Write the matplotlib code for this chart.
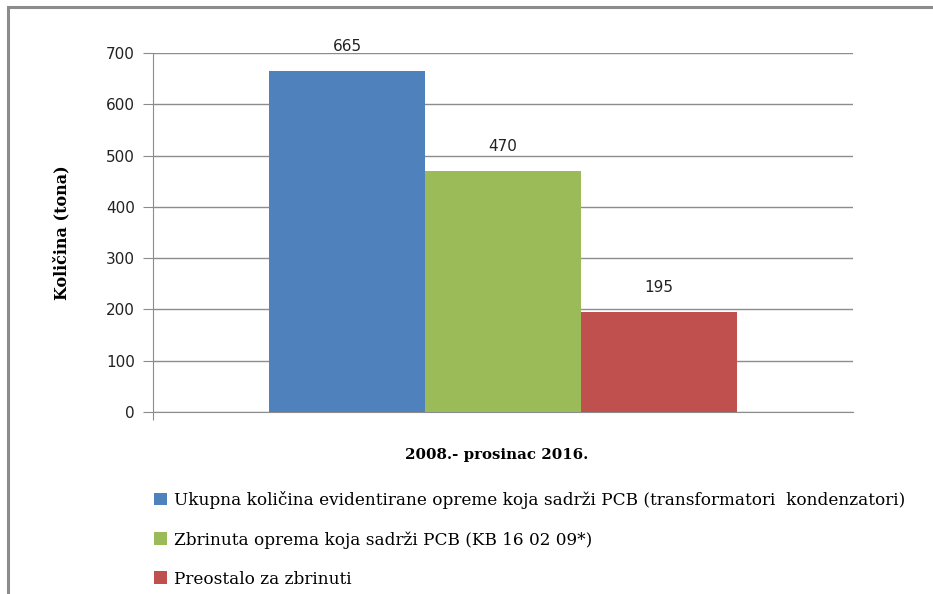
import matplotlib
matplotlib.use("Agg")
import matplotlib.pyplot as plt
from matplotlib.patches import Patch, Rectangle

category = "2008.- prosinac 2016."
series = [
    "Ukupna količina evidentirane opreme koja sadrži PCB (transformatori  kondenzatori)",
    "Zbrinuta oprema koja sadrži PCB (KB 16 02 09*)",
    "Preostalo za zbrinuti",
]
values = [665, 470, 195]
colors = ["#4f81bd", "#9bbb59", "#c0504d"]
yticks = [0, 100, 200, 300, 400, 500, 600, 700]

W, H = 933, 594
fig = plt.figure(figsize=(W / 100, H / 100), dpi=100)

# outer frame
fig.patches.append(Rectangle((8 / W, -0.1), 2.0, (H - 7) / H + 0.1,
                             transform=fig.transFigure, fill=False,
                             edgecolor="#8c8c8c", linewidth=2.2, zorder=0))

ax = fig.add_axes([153 / W, 1 - 412 / H, 700 / W, (412 - 53) / H])
xs = [-1, 0, 1]
ax.bar(xs, values, width=1.0, color=colors, zorder=3, linewidth=0)
ax.set_xlim(-2.248, 2.248)
ax.set_ylim(0, 700)
ax.set_yticks(yticks)
ax.set_yticklabels([str(t) for t in yticks], fontsize=11, color="#222222",
                   family="DejaVu Sans")
ax.grid(axis="y", color="#8c8c8c", linewidth=1.0, zorder=1)
ax.set_axisbelow(True)
for s in ["top", "right"]:
    ax.spines[s].set_visible(False)
ax.spines["left"].set_color("#8c8c8c")
ax.spines["bottom"].set_color("#8c8c8c")
ax.tick_params(axis="y", length=7, color="#8c8c8c", pad=6)
ax.set_xticks([-2.248])
ax.set_xticklabels([""])
ax.tick_params(axis="x", length=6, color="#8c8c8c")

for x, v in zip(xs, values):
    ax.annotate(str(v), (x, v), xytext=(0, 12), textcoords="offset points",
                ha="center", va="bottom", fontsize=11, color="#222222",
                family="DejaVu Sans")

serif = "DejaVu Serif"
fig.text(62 / W, 1 - 233 / H, "Količina (tona)", rotation=90,
         ha="center", va="center", fontsize=11.5, fontweight="bold",
         family=serif)
fig.text(497 / W, 1 - 455 / H, category, ha="center", va="center",
         fontsize=10.8, fontweight="bold", family=serif)

handles = [Patch(facecolor=c, edgecolor="none") for c in colors]
fig.legend(handles, series, loc="upper left",
           bbox_to_anchor=(154 / W, 1 - 491 / H), frameon=False,
           prop={"family": serif, "size": 12.2},
           handlelength=0.75, handleheight=0.75, handletextpad=0.45,
           labelspacing=1.3, borderpad=0, borderaxespad=0)

fig.savefig("out.png", dpi=100)
